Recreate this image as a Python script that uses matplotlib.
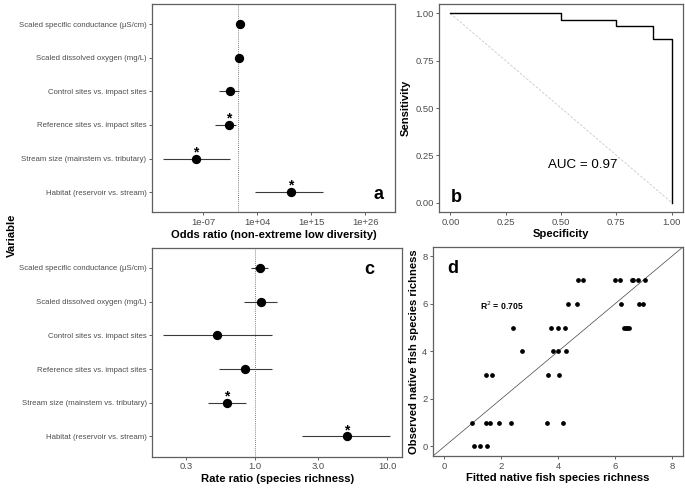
import matplotlib
matplotlib.use('Agg')
import matplotlib.pyplot as plt
import numpy as np

plt.rcParams['font.family'] = ['Liberation Sans', 'DejaVu Sans']

# ---------------- data ----------------
variables = ["Scaled specific conductance (µS/cm)",
             "Scaled dissolved oxygen (mg/L)",
             "Control sites vs. impact sites",
             "Reference sites vs. impact sites",
             "Stream size (mainstem vs. tributary)",
             "Habitat (reservoir vs. stream)"]

# panel a: odds ratios (log10 scale values)
odds_log10 = [0.40, 0.30, -1.50, -1.82, -8.55, 10.9]
odds_lo_log10 = [0.30, 0.20, -3.80, -4.60, -15.2, 3.55]
odds_hi_log10 = [0.50, 0.40, 0.22, -0.27, -1.55, 17.5]
odds_sig = [False, False, False, True, True, True]
odds_ticks = [1e-7, 1e4, 1e15, 1e26]
odds_ticklabels = ["1e-07", "1e+04", "1e+15", "1e+26"]

# panel b: ROC curve
roc_specificity = [0.0, 0.5, 0.5, 0.75, 0.75, 0.917, 0.917, 1.0, 1.0]
roc_sensitivity = [1.0, 1.0, 0.967, 0.967, 0.933, 0.933, 0.867, 0.867, 0.0]
roc_ticks = [0.00, 0.25, 0.50, 0.75, 1.00]
roc_ticklabels = ["0.00", "0.25", "0.50", "0.75", "1.00"]
auc_text = "AUC = 0.97"

# panel c: rate ratios
rate = [1.085, 1.10, 0.515, 0.836, 0.607, 4.95]
rate_lo = [0.928, 0.817, 0.201, 0.531, 0.436, 2.27]
rate_hi = [1.254, 1.46, 1.33, 1.33, 0.846, 10.5]
rate_sig = [False, False, False, False, True, True]
rate_ticks = [0.3, 1.0, 3.0, 10.0]
rate_ticklabels = ["0.3", "1.0", "3.0", "10.0"]

# panel d: fitted vs observed
fitted = [4.69, 4.86, 6.01, 6.19, 6.58, 6.63, 6.81, 7.04,
          4.34, 4.65, 6.22, 6.85, 6.99,
          2.42, 3.74, 4.00, 4.24, 6.33, 6.38, 6.43, 6.48,
          2.74, 3.83, 4.00, 4.29,
          1.48, 1.66, 3.63, 4.02,
          0.97, 1.48, 1.60, 1.91, 2.35, 3.62, 4.16,
          1.03, 1.25, 1.51]
observed = [7, 7, 7, 7, 7, 7, 7, 7,
            6, 6, 6, 6, 6,
            5, 5, 5, 5, 5, 5, 5, 5,
            4, 4, 4, 4,
            3, 3, 3, 3,
            1, 1, 1, 1, 1, 1, 1,
            0, 0, 0]
d_ticks = [0, 2, 4, 6, 8]
r2_text = r"R$^2$ = 0.705"

# ---------------- styling ----------------
W, H = 685, 492
fig = plt.figure(figsize=(W / 100, H / 100), dpi=100)

def add_ax(l, t, r, b):
    return fig.add_axes([l / W, 1 - b / H, (r - l) / W, (b - t) / H])

FRAME = '#5f5f5f'
TICKC = '#4D4D4D'
TICK_FS = 6.8
CAT_FS = 5.6
TITLE_FS = 8.1

def style(ax):
    for s in ax.spines.values():
        s.set_color(FRAME)
        s.set_linewidth(0.9)
    ax.tick_params(axis='both', which='major', color=FRAME, width=0.7, length=2.5,
                   labelcolor=TICKC, labelsize=TICK_FS, pad=1.5)
    ax.tick_params(axis='both', which='minor', length=0)

ypos = np.arange(len(variables), 0, -1)

def forest(ax, x, lo, hi, sig):
    ax.axvline(1.0, color='#555555', linestyle=(0, (1, 1.5)), linewidth=0.6, zorder=1)
    ax.hlines(ypos, lo, hi, color='#3a3a3a', linewidth=0.8, zorder=2)
    ax.plot(x, ypos, 'o', color='black', markersize=5.7, zorder=3)
    for xi, yi, s in zip(x, ypos, sig):
        if s:
            ax.annotate('*', xy=(xi, yi), xytext=(0, 1.8), textcoords='offset points',
                        ha='center', va='baseline', fontsize=10, fontweight='bold')
    ax.set_yticks(ypos)
    ax.set_yticklabels(variables, fontsize=CAT_FS, color=TICKC)
    ax.set_ylim(0.4, len(variables) + 0.6)
    ax.set_xscale('log')

# ---- panel a ----
axa = add_ax(152, 4, 395, 212.3)
style(axa)
forest(axa, 10 ** np.array(odds_log10), 10 ** np.array(odds_lo_log10),
       10 ** np.array(odds_hi_log10), odds_sig)
axa.set_xlim(10 ** -17.5, 10 ** 32.1)
axa.set_xticks(odds_ticks)
axa.set_xticklabels(odds_ticklabels)
axa.xaxis.set_minor_locator(matplotlib.ticker.NullLocator())
axa.set_xlabel("Odds ratio (non-extreme low diversity)", fontsize=TITLE_FS,
               fontweight='bold', labelpad=2)
axa.text(0.933, 0.064, 'a', transform=axa.transAxes, ha='center', va='baseline',
         fontsize=13, fontweight='bold')

# ---- panel b ----
axb = add_ax(439.3, 4, 682.7, 212)
style(axb)
axb.plot([0, 1], [1, 0], color='#c8c8c8', linestyle=(0, (3, 2)), linewidth=0.6)
axb.plot(roc_specificity, roc_sensitivity, color='black', linewidth=1.0)
axb.set_xlim(-0.05, 1.05)
axb.set_ylim(-0.05, 1.05)
axb.set_xticks(roc_ticks)
axb.set_xticklabels(roc_ticklabels)
axb.set_yticks(roc_ticks)
axb.set_yticklabels(roc_ticklabels)
axb.set_xlabel("Specificity", fontsize=TITLE_FS, fontweight='bold', labelpad=2)
axb.set_ylabel("Sensitivity", fontsize=TITLE_FS, fontweight='bold', labelpad=3)
axb.text(0.6, 0.2, auc_text, ha='center', va='center', fontsize=9.6)
axb.text(0.068, 0.05, 'b', transform=axb.transAxes, ha='center', va='baseline',
         fontsize=13, fontweight='bold')

# ---- panel c ----
axc = add_ax(152.3, 247.7, 402, 456.7)
style(axc)
forest(axc, rate, rate_lo, rate_hi, rate_sig)
axc.set_xlim(10 ** -0.78, 10 ** 1.111)
axc.set_xticks(rate_ticks)
axc.set_xticklabels(rate_ticklabels)
axc.xaxis.set_minor_locator(matplotlib.ticker.NullLocator())
axc.set_xlabel("Rate ratio (species richness)", fontsize=TITLE_FS,
               fontweight='bold', labelpad=2)
axc.text(0.869, 0.873, 'c', transform=axc.transAxes, ha='center', va='baseline',
         fontsize=13, fontweight='bold')

# ---- panel d ----
axd = add_ax(433, 246.7, 683.3, 456)
style(axd)
axd.axline((0, 0), slope=1, color='#444444', linewidth=0.5)
axd.plot(fitted, observed, 'o', color='black', markersize=2.4)
axd.set_xlim(-0.4, 8.4)
axd.set_ylim(-0.4, 8.4)
axd.set_xticks(d_ticks)
axd.set_yticks(d_ticks)
axd.set_xlabel("Fitted native fish species richness", fontsize=TITLE_FS,
               fontweight='bold', labelpad=2)
axd.set_ylabel("Observed native fish species richness", fontsize=TITLE_FS,
               fontweight='bold', labelpad=2)
axd.text(2.0, 5.9, r2_text, ha='center', va='center', fontsize=6.2, fontweight='bold')
axd.text(0.078, 0.873, 'd', transform=axd.transAxes, ha='center', va='baseline',
         fontsize=13, fontweight='bold')

fig.text(12 / W, 1 - 235 / H, "Variable", rotation=90, ha='center', va='center',
         fontsize=TITLE_FS, fontweight='bold')

fig.savefig('out.png', dpi=100)
